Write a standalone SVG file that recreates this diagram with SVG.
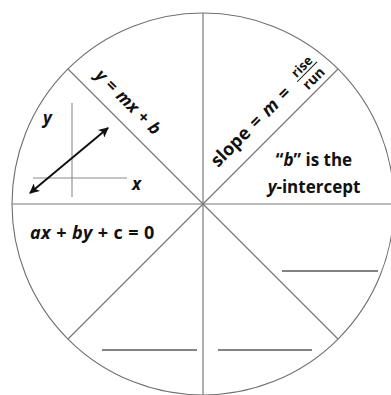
<svg xmlns="http://www.w3.org/2000/svg" width="391" height="395" viewBox="0 0 391 395">
  <defs>
    <style>
      .rule { stroke: #7a7a7a; stroke-width: 1.2; fill: none; }
      .axis { stroke: #8a8a8a; stroke-width: 1.1; fill: none; }
      .blank { stroke: #5a5a5a; stroke-width: 1.6; fill: none; }
      .t { font-family: "Open Sans", "Liberation Sans", sans-serif; font-weight: 700; fill: #111111; }
      .i { font-style: italic; }
    </style>
    <marker id="ah" viewBox="0 0 10 10" refX="9" refY="5" markerWidth="11" markerHeight="10" markerUnits="userSpaceOnUse" orient="auto-start-reverse">
      <path d="M0,0 L10,5 L0,10 L2.5,5 Z" fill="#111111"/>
    </marker>
  </defs>
  <rect width="391" height="395" fill="#ffffff"/>

  <g id="wheel">
    <circle cx="203" cy="204" r="191" stroke="#6e6e6e" stroke-width="1.1" fill="none"/>
  </g>

  <g id="connectors">
    <line class="rule" x1="203" y1="13" x2="203" y2="395"/>
    <line class="rule" x1="12" y1="204" x2="394" y2="204"/>
    <line class="rule" x1="68" y1="69" x2="338" y2="339"/>
    <line class="rule" x1="338" y1="69" x2="68" y2="339"/>
  </g>

  <g id="graph-sketch">
    <line class="axis" x1="72" y1="103" x2="72" y2="197"/>
    <line class="axis" x1="33" y1="178" x2="127" y2="178"/>
    <line x1="30" y1="193" x2="108" y2="128" stroke="#111111" stroke-width="2" marker-start="url(#ah)" marker-end="url(#ah)"/>
    <text class="t i" x="43" y="124" font-size="17">y</text>
    <text class="t i" x="132" y="190" font-size="17">x</text>
  </g>

  <g id="slope-intercept">
    <text class="t" transform="translate(124,106) rotate(45)" text-anchor="middle" font-size="17" word-spacing="1"><tspan class="i">y</tspan> = <tspan class="i">mx</tspan> + <tspan class="i">b</tspan></text>
  </g>

  <g id="slope" transform="translate(218,168) rotate(-45)">
    <text class="t" x="0" y="0" font-size="18" word-spacing="2">slope = <tspan class="i">m</tspan> =</text>
    <line x1="117" y1="-5" x2="145" y2="-5" stroke="#111111" stroke-width="1"/>
    <text class="t" x="131" y="-8" font-size="13" text-anchor="middle">rise</text>
    <text class="t" x="131" y="9" font-size="14" text-anchor="middle">run</text>
  </g>

  <g id="y-intercept">
    <text class="t" x="314" y="166" font-size="17" text-anchor="middle">“<tspan class="i">b</tspan>” is the</text>
    <text class="t" x="314" y="193" font-size="17" text-anchor="middle"><tspan class="i">y</tspan>-intercept</text>
  </g>

  <g id="standard-form">
    <text class="t" x="30" y="239" font-size="18" letter-spacing="0.4"><tspan class="i">ax</tspan> + <tspan class="i">by</tspan> + c = 0</text>
  </g>

  <g id="blank-lines">
    <line class="blank" x1="282" y1="271" x2="378" y2="271"/>
    <line class="blank" x1="102" y1="350" x2="197" y2="350"/>
    <line class="blank" x1="218" y1="350" x2="312" y2="350"/>
  </g>
</svg>
